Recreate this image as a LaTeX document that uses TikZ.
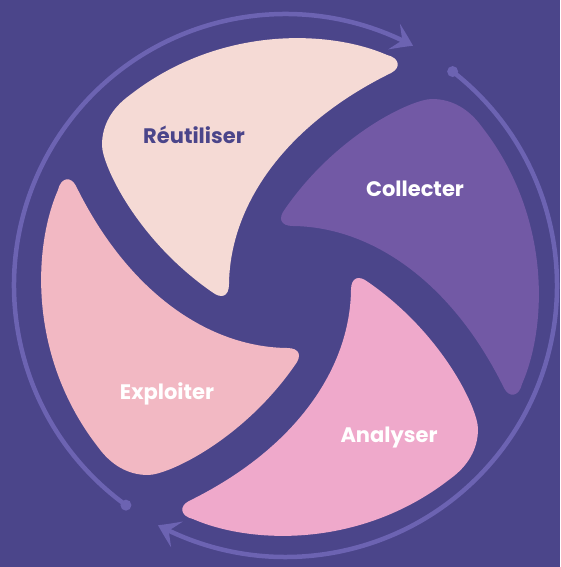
\documentclass[tikz,border=0pt]{standalone}
\usepackage{fontspec}
\setmainfont{Poppins}
\usetikzlibrary{arrows.meta,bending,calc}

\definecolor{bgpurple}{RGB}{75,69,138}
\definecolor{ringpurple}{RGB}{108,99,178}
\definecolor{reutfill}{RGB}{245,218,213}
\definecolor{collfill}{RGB}{114,89,165}
\definecolor{analfill}{RGB}{239,169,203}
\definecolor{explfill}{RGB}{242,184,195}

\tikzset{
  blade/.pic={
    \path[pic actions]
      (97,-232) .. controls (40,-257) and (-70,-262) .. (-160,-192)
      .. controls (-178,-179) and (-188,-162) .. (-188,-142)
      .. controls (-188,-122) and (-153,-47) .. (-78,5)
      .. controls (-69,12) and (-61,10) .. (-61,-3)
      .. controls (-60,-82) and (-5,-162) .. (101,-214)
      .. controls (111,-219) and (110,-229) .. (97,-232) -- cycle;
  },
  ring/.style={draw=ringpurple, line width=4.5pt, line cap=round},
  ringtip/.style={-{Stealth[length=21pt,width=28pt,inset=9pt,bend]}},
  ringdot/.style={fill=ringpurple},
  label/.style={font=\bfseries\fontsize{21}{21}\selectfont, anchor=base, inner sep=0pt},
}

\begin{document}
\begin{tikzpicture}[x=1pt,y=-1pt]
  \fill[bgpurple] (0,0) rectangle (560,567);
  \useasboundingbox (0,0) rectangle (560,567);

  % ring centre and blade centre
  \coordinate (ring) at (285.5,285.5);
  \coordinate (hub) at (290,287);

  % the four blades of the cycle
  \pic[fill=reutfill] at (hub) {blade};
  \pic[fill=collfill, rotate=-90] at (hub) {blade};
  \pic[fill=analfill, rotate=-180] at (hub) {blade};
  \pic[fill=explfill, rotate=-270] at (hub) {blade};

  % the two arcs of the outer ring
  \coordinate (startA) at ($(ring)+(-234:271.5)$);
  \coordinate (startB) at ($(ring)+(-52:271.5)$);
  \draw[ring, ringtip] (startA) arc[start angle=-234, end angle=-62, radius=271.5];
  \draw[ring, ringtip] (startB) arc[start angle=-52, end angle=118, radius=271.5];
  \fill[ringdot] (startA) circle[radius=5.5];
  \fill[ringdot] (startB) circle[radius=5.5];

  % labels
  \node[label, text=bgpurple] (reut) at (194,143) {Réutiliser};
  \node[label, text=white] (coll) at (415,196) {Collecter};
  \node[label, text=white] (anal) at (389,442) {Analyser};
  \node[label, text=white] (expl) at (167,399) {Exploiter};
\end{tikzpicture}
\end{document}
